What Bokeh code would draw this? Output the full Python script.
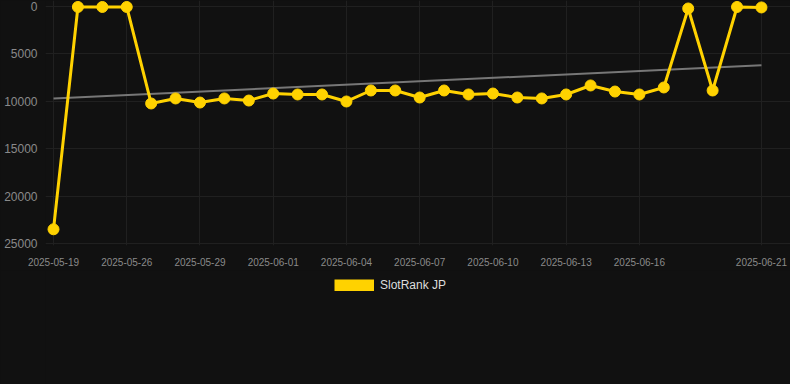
from bokeh.plotting import figure
from bokeh.layouts import column
from bokeh.models import Range1d, FixedTicker, Legend, LegendItem
from bokeh.embed import file_html
from bokeh.resources import INLINE
import numpy as np

dates = ["2025-05-19", "2025-05-24", "2025-05-25", "2025-05-26", "2025-05-27",
         "2025-05-28", "2025-05-29", "2025-05-30", "2025-05-31", "2025-06-01",
         "2025-06-02", "2025-06-03", "2025-06-04", "2025-06-05", "2025-06-06",
         "2025-06-07", "2025-06-08", "2025-06-09", "2025-06-10", "2025-06-11",
         "2025-06-12", "2025-06-13", "2025-06-14", "2025-06-15", "2025-06-16",
         "2025-06-17", "2025-06-18", "2025-06-19", "2025-06-20", "2025-06-21"]
ranks = [23500, 50, 50, 50, 10230, 9700, 10130, 9700, 9920, 9180,
         9280, 9280, 10020, 8860, 8860, 9600, 8860, 9280, 9180, 9600,
         9700, 9280, 8330, 8970, 9280, 8540, 210, 8860, 50, 100]
x_tick_idx = [0, 3, 6, 9, 12, 15, 18, 21, 24, 29]
y_ticks = [0, 5000, 10000, 15000, 20000, 25000]
series_name = "SlotRank JP"

BG = "#111111"
GOLD = "#FFD200"
FONT = "Liberation Sans"

xs = list(range(len(dates)))
coef = np.polyfit(xs, ranks, 1)
trend_x = [xs[0], xs[-1]]
trend_y = list(np.polyval(coef, trend_x))

p = figure(width=790, height=270, output_backend="svg", toolbar_location=None,
           x_range=Range1d(-0.328, 30.19), y_range=Range1d(25211, -633),
           background_fill_color=BG, border_fill_color=BG, outline_line_color=None,
           min_border_left=45, min_border_right=0, min_border_top=0, min_border_bottom=25,
           styles={"background-color": BG})

p.line(trend_x, trend_y, line_color="#777777", line_width=2)
p.line(xs, ranks, line_color=GOLD, line_width=3)
p.scatter(xs, ranks, size=11, fill_color=GOLD, line_color=GOLD)

p.xaxis.ticker = FixedTicker(ticks=x_tick_idx)
p.xaxis.major_label_overrides = {i: dates[i] for i in x_tick_idx}
p.yaxis.ticker = FixedTicker(ticks=y_ticks)
for ax in (p.xaxis, p.yaxis):
    ax.axis_line_color = None
    ax.major_tick_line_color = None
    ax.minor_tick_line_color = None
    ax.major_label_text_color = "#8a8a8a"
    ax.major_label_text_font = FONT
p.xaxis.major_label_text_font_size = "10px"
p.yaxis.major_label_text_font_size = "12px"
p.xaxis.major_label_standoff = 6
p.yaxis.major_label_standoff = 2
p.xgrid.ticker = FixedTicker(ticks=x_tick_idx)
p.ygrid.ticker = FixedTicker(ticks=y_ticks)
p.grid.grid_line_color = "#202020"
p.grid.grid_line_width = 1

# legend strip below the chart
q = figure(width=790, height=114, output_backend="svg", toolbar_location=None,
           x_range=Range1d(0, 1), y_range=Range1d(0, 1),
           background_fill_color=BG, border_fill_color=BG, outline_line_color=None,
           min_border_left=45, min_border_right=0, min_border_top=0, min_border_bottom=0,
           x_axis_type=None, y_axis_type=None, styles={"background-color": BG})
q.grid.visible = False
key = q.line(xs, ranks, line_color=GOLD, line_width=12, line_cap="butt", visible=False)
legend = Legend(items=[LegendItem(label=series_name, renderers=[key])],
                location=(289, 92), orientation="horizontal",
                background_fill_alpha=0, border_line_alpha=0,
                label_text_color="#dddddd", label_text_font=FONT, label_text_font_size="12px",
                glyph_width=40, glyph_height=12, padding=0, margin=0, label_standoff=6)
q.add_layout(legend, "center")

layout = column(p, q, spacing=0, styles={"background-color": BG})
open("out.html", "w").write(file_html(layout, INLINE))
